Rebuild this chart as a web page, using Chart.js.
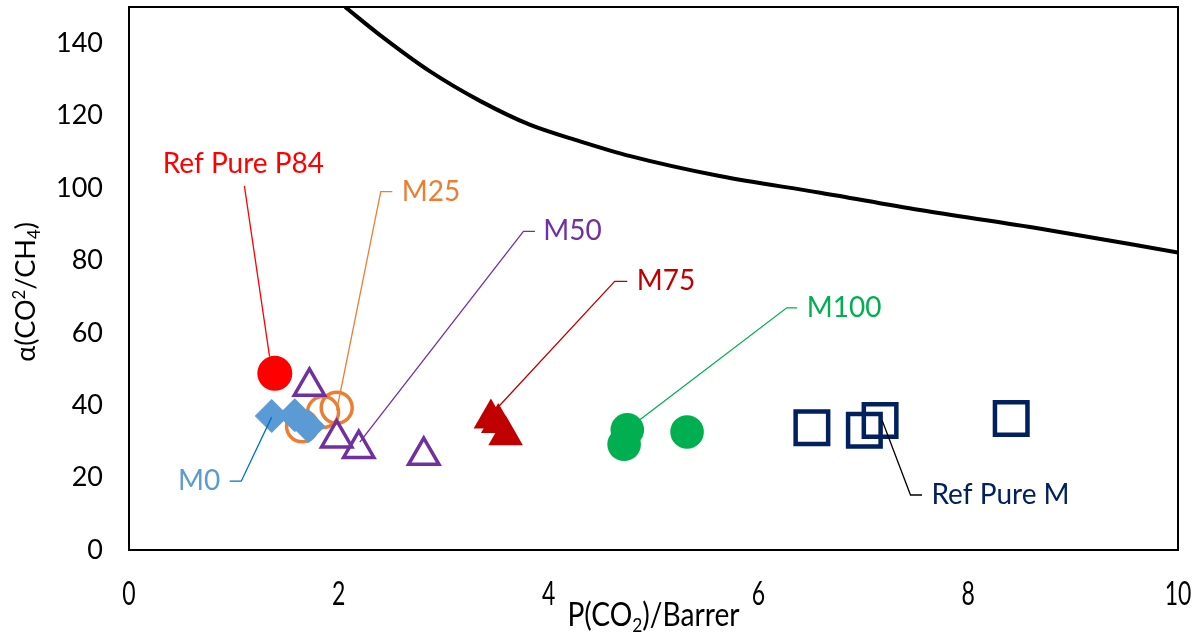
<!DOCTYPE html>
<html>
<head>
<meta charset="utf-8">
<script src="https://cdn.jsdelivr.net/npm/chart.js@4.4.1/dist/chart.umd.min.js"></script>
<style>
  html, body { margin: 0; padding: 0; background: #fff; }
</style>
</head>
<body>
<canvas id="chart" width="1201" height="633"></canvas>
<script>
// axis ticks
const xTicks = [0, 2, 4, 6, 8, 10];
const yTicks = [0, 20, 40, 60, 80, 100, 120, 140];

// series values, P(CO2) in Barrer and alpha(CO2/CH4)
const p84X = [1.39];
const p84Y = [48.8];
const m0X = [1.36, 1.58, 1.71];
const m0Y = [37.0, 37.2, 34.2];
const m25X = [1.65, 1.85, 1.98];
const m25Y = [34.2, 38.1, 39.3];
const m50X = [1.72, 1.98, 2.19, 2.81];
const m50Y = [45.2, 30.9, 28.0, 26.1];
const m75X = [3.45, 3.52, 3.59];
const m75Y = [36.3, 35.1, 31.7];
const m100X = [4.75, 4.72, 5.32];
const m100Y = [33.2, 29.2, 32.6];
const refMX = [6.51, 7.01, 7.16, 8.41];
const refMY = [33.8, 33.1, 35.8, 36.3];

// upper bound curve
const boundX = [2.06, 2.39, 2.87, 3.35, 3.82, 4.30, 4.78, 5.63, 6.59, 7.54, 8.62, 10.0];
const boundY = [150, 142.3, 132.2, 124.0, 117.5, 112.9, 108.8, 103.3, 98.7, 93.9, 89.1, 82.2];

// data labels: text anchor and leader line (data units)
const labelText = ['Ref Pure P84', 'M25', 'M50', 'M75', 'M100', 'Ref Pure M', 'M0'];
const labelColor = ['#FF0000', '#ED7D31', '#7030A0', '#C00000', '#00B050', '#002060', '#5B9BD5'];
const leaderColor = ['#FF0000', '#ED7D31', '#7030A0', '#C00000', '#00B050', '#000000', '#0070C0'];
const labelAt = [[1.09, 106.6], [2.60, 99.0], [3.95, 88.0], [4.84, 74.2], [6.46, 66.9], [7.65, 15.2], [0.87, 19.0]];
const labelAlign = ['center', 'left', 'left', 'left', 'left', 'left', 'right'];
const leaderPath = [
  [[1.10, 100.6], [1.34, 53.4]],
  [[2.51, 99.0], [2.40, 99.0], [1.98, 38.6]],
  [[3.87, 88.0], [3.76, 88.0], [2.20, 29.8]],
  [[4.75, 74.2], [4.63, 74.2], [3.52, 39.5]],
  [[6.37, 66.9], [6.27, 66.9], [4.87, 36.0]],
  [[7.56, 15.2], [7.45, 15.2], [7.18, 35.8]],
  [[0.96, 19.0], [1.07, 19.0], [1.36, 36.7]]
];

const FONT = 'Lato, "Open Sans", sans-serif';

function pts(xs, ys) {
  return xs.map((x, i) => ({ x: x, y: ys[i] }));
}

function marker(label, xs, ys, style, radius, fill, stroke, width) {
  return {
    label: label,
    data: pts(xs, ys),
    pointStyle: style,
    pointRadius: radius,
    pointBackgroundColor: fill,
    pointBorderColor: stroke,
    pointBorderWidth: width,
    showLine: false,
  };
}

// draws text with sub/superscript parts, centered or aligned at x
function drawRich(ctx, parts, x, y, size, align) {
  const setFont = p => { ctx.font = (p.s ? size * 0.62 : size) + 'px ' + FONT; };
  let total = 0;
  parts.forEach(p => { setFont(p); total += ctx.measureText(p.t).width; });
  let cx = align === 'center' ? x - total / 2 : x;
  ctx.textAlign = 'left';
  parts.forEach(p => {
    setFont(p);
    const dy = p.s === 1 ? -size * 0.36 : p.s === -1 ? size * 0.2 : 0;
    ctx.fillText(p.t, cx, y + dy);
    cx += ctx.measureText(p.t).width;
  });
}

const decorPlugin = {
  id: 'decor',
  beforeDatasetsDraw(chart) {
    const { ctx, chartArea: a } = chart;
    ctx.save();
    ctx.strokeStyle = '#000';
    ctx.lineWidth = 2;
    ctx.strokeRect(a.left, a.top, a.right - a.left, a.bottom - a.top);
    ctx.restore();
  },
  afterDatasetsDraw(chart) {
    const { ctx } = chart;
    const xs = chart.scales.x, ys = chart.scales.y;
    ctx.save();
    // leader lines
    leaderPath.forEach((path, i) => {
      ctx.beginPath();
      path.forEach((p, j) => {
        const px = xs.getPixelForValue(p[0]), py = ys.getPixelForValue(p[1]);
        if (j === 0) ctx.moveTo(px, py); else ctx.lineTo(px, py);
      });
      ctx.strokeStyle = leaderColor[i];
      ctx.lineWidth = 1.3;
      ctx.stroke();
    });
    // label texts
    ctx.font = '28px ' + FONT;
    ctx.textBaseline = 'middle';
    labelText.forEach((t, i) => {
      ctx.fillStyle = labelColor[i];
      ctx.textAlign = labelAlign[i];
      ctx.fillText(t, xs.getPixelForValue(labelAt[i][0]), ys.getPixelForValue(labelAt[i][1]));
    });
    ctx.restore();
  },
  afterDraw(chart) {
    const { ctx } = chart;
    const xs = chart.scales.x;
    ctx.save();
    ctx.fillStyle = '#000';
    ctx.textBaseline = 'alphabetic';
    // x tick labels, narrow like the original
    ctx.font = '32px ' + FONT;
    ctx.textAlign = 'center';
    xs.ticks.forEach(t => {
      ctx.save();
      ctx.translate(xs.getPixelForValue(t.value), 605);
      ctx.scale(0.72, 1);
      ctx.fillText(String(t.value), 0, 0);
      ctx.restore();
    });
    // x title
    ctx.save();
    ctx.translate((chart.chartArea.left + chart.chartArea.right) / 2, 626);
    ctx.scale(0.88, 1);
    drawRich(ctx, [{ t: 'P(CO' }, { t: '2', s: -1 }, { t: ')/Barrer' }], 0, 0, 32, 'center');
    ctx.restore();
    // y title
    ctx.save();
    ctx.translate(35, 292);
    ctx.rotate(-Math.PI / 2);
    drawRich(ctx, [{ t: 'α(CO' }, { t: '2', s: 1 }, { t: '/CH' }, { t: '4', s: -1 }, { t: ')' }], 0, 0, 27, 'center');
    ctx.restore();
    ctx.restore();
  }
};

function build() {
  const datasets = [
    marker('M50', m50X, m50Y, 'triangle', 17.5, 'rgba(0,0,0,0)', '#7030A0', 3.5),
    marker('M0', m0X, m0Y, 'rectRot', 17, '#5B9BD5', '#5B9BD5', 0),
    marker('M25', m25X, m25Y, 'circle', 15.5, 'rgba(0,0,0,0)', '#ED7D31', 3.5),
    marker('Ref Pure P84', p84X, p84Y, 'circle', 17.5, '#FF0000', '#FF0000', 0),
    marker('M75', m75X, m75Y, 'triangle', 20, '#C00000', '#C00000', 0),
    marker('M100', m100X, m100Y, 'circle', 16.8, '#00B050', '#00B050', 0),
    marker('Ref Pure M', refMX, refMY, 'rect', 23, 'rgba(0,0,0,0)', '#002060', 4.5),
    {
      label: 'bound',
      data: pts(boundX, boundY),
      showLine: true,
      borderColor: '#000',
      borderWidth: 4,
      pointRadius: 0,
      cubicInterpolationMode: 'monotone',
    },
  ];

  new Chart(document.getElementById('chart'), {
    type: 'scatter',
    data: { datasets },
    options: {
      responsive: false,
      animation: false,
      events: [],
      layout: { autoPadding: false, padding: { left: 0, top: 7, right: 23, bottom: 0 } },
      plugins: { legend: { display: false }, tooltip: { enabled: false } },
      scales: {
        x: {
          type: 'linear',
          min: 0,
          max: 10,
          grid: { display: false, drawTicks: false },
          border: { display: false },
          ticks: { display: false },
          afterBuildTicks: scale => { scale.ticks = xTicks.map(v => ({ value: v })); },
          afterFit: scale => {
            scale.height = 83;
            scale.paddingLeft = 0;
            scale.paddingRight = 0;
          },
        },
        y: {
          type: 'linear',
          min: 0,
          max: 150,
          // invisible tick marks keep the labels away from the frame
          grid: { display: true, drawOnChartArea: false, drawTicks: true, tickLength: 26, color: 'rgba(0,0,0,0)' },
          border: { display: false },
          ticks: { color: '#000', padding: 0, font: { family: FONT, size: 27 } },
          afterBuildTicks: scale => { scale.ticks = yTicks.map(v => ({ value: v })); },
          afterFit: scale => {
            scale.width = 129;
            scale.paddingTop = 0;
            scale.paddingBottom = 0;
          },
        },
      },
    },
    plugins: [decorPlugin],
  });
}

Promise.all([
  document.fonts.load('27px Lato'),
  document.fonts.load('32px Lato'),
]).then(build, build);
</script>
</body>
</html>
